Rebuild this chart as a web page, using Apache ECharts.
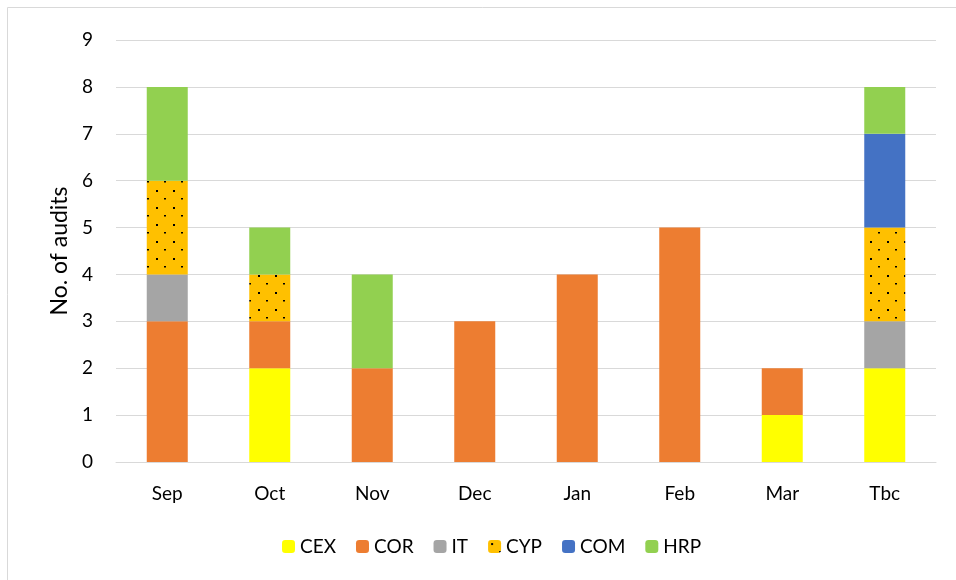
<!DOCTYPE html>
<html>
<head>
<meta charset="utf-8">
<script src="https://cdn.jsdelivr.net/npm/echarts@6/dist/echarts.min.js"></script>
<style>
  html, body { margin: 0; padding: 0; background: #fff; }
  #chart { width: 956px; height: 580px; }
</style>
</head>
<body>
<div id="chart"></div>
<script>
const months = ['Sep', 'Oct', 'Nov', 'Dec', 'Jan', 'Feb', 'Mar', 'Tbc'];
const yTicks = [0, 1, 2, 3, 4, 5, 6, 7, 8, 9];

const cex = [0, 2, 0, 0, 0, 0, 1, 2];
const cor = [3, 1, 2, 3, 4, 5, 1, 0];
const it = [1, 0, 0, 0, 0, 0, 0, 1];
const cyp = [2, 1, 0, 0, 0, 0, 0, 2];
const com = [0, 0, 0, 0, 0, 0, 0, 2];
const hrp = [2, 1, 2, 0, 0, 0, 0, 1];

// small dotted fill for CYP, like the Excel pattern
const makeDots = () => {
  const c = document.createElement('canvas');
  c.width = 17;
  c.height = 17;
  const ctx = c.getContext('2d');
  ctx.fillStyle = '#FFC000';
  ctx.fillRect(0, 0, 17, 17);
  ctx.fillStyle = '#000';
  ctx.fillRect(3, 3, 2, 2);
  ctx.fillRect(11, 11, 2, 1.5);
  return c;
};

const chart = echarts.init(document.getElementById('chart'));
const font = 'Lato, "Open Sans", sans-serif';

const bar = (name, data, color) => ({
  name,
  type: 'bar',
  stack: 'total',
  barWidth: 41,
  data,
  itemStyle: { color },
});

chart.setOption({
  animation: false,
  textStyle: { fontFamily: font },
  graphic: [
    {
      type: 'rect',
      shape: { x: 7.5, y: 7.5, width: 1000, height: 1000 },
      style: { fill: 'none', stroke: '#d9d9d9', lineWidth: 1 },
      silent: true,
    },
  ],
  legend: {
    bottom: 19,
    left: 277,
    itemWidth: 13,
    itemHeight: 13,
    itemGap: 20,
    textStyle: { fontSize: 19, color: '#000', fontFamily: font },
    data: ['CEX', 'COR', 'IT', 'CYP', 'COM', 'HRP'],
  },
  grid: {
    left: 116,
    right: 20,
    top: 40,
    bottom: 118,
  },
  xAxis: {
    type: 'category',
    data: months,
    axisLine: { lineStyle: { color: '#d9d9d9' } },
    axisTick: { show: false },
    axisLabel: { fontSize: 19, color: '#000', margin: 22 },
  },
  yAxis: {
    type: 'value',
    min: yTicks[0],
    max: yTicks[yTicks.length - 1],
    interval: 1,
    name: 'No. of audits',
    nameLocation: 'middle',
    nameGap: 43,
    nameTextStyle: { fontSize: 23, color: '#000' },
    axisLine: { show: false },
    axisTick: { show: false },
    axisLabel: { fontSize: 19, color: '#000', margin: 23 },
    splitLine: { lineStyle: { color: '#d9d9d9', width: 1 } },
  },
  series: [
    bar('CEX', cex, '#FFFF00'),
    bar('COR', cor, '#ED7D31'),
    bar('IT', it, '#A5A5A5'),
    bar('CYP', cyp, { image: makeDots(), repeat: 'repeat' }),
    bar('COM', com, '#4472C4'),
    bar('HRP', hrp, '#92D050'),
  ],
});
</script>
</body>
</html>
